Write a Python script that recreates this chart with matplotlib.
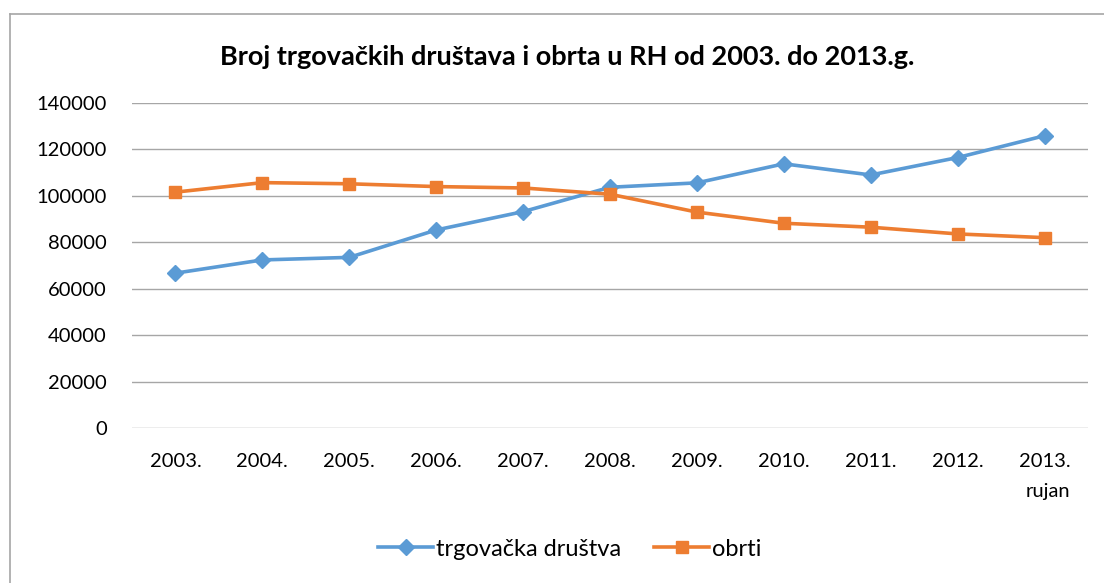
import matplotlib
matplotlib.use("Agg")
import matplotlib.pyplot as plt
from matplotlib.lines import Line2D

categories = ["2003.", "2004.", "2005.", "2006.", "2007.", "2008.", "2009.",
              "2010.", "2011.", "2012.", "2013.\nrujan"]
trgovacka_drustva = [66700, 72400, 73500, 85300, 93200, 103700, 105600,
                     113800, 109000, 116500, 125900]
obrti = [101600, 105700, 105200, 104000, 103400, 100700, 93000,
         88200, 86500, 83600, 82000]
yticks = [0, 20000, 40000, 60000, 80000, 100000, 120000, 140000]
title = "Broj trgovačkih društava i obrta u RH od 2003. do 2013.g."

plt.rcParams['font.family'] = ['Lato', 'DejaVu Sans']

W, H = 1104, 583
fig = plt.figure(figsize=(W / 100, H / 100), dpi=100)
# outer chart border (left and top visible, others cut off)
fig.add_artist(Line2D([9.5 / W, 9.5 / W], [0, 1 - 13.5 / H],
                      transform=fig.transFigure, color="#A6A6A6", linewidth=1.2))
fig.add_artist(Line2D([9.5 / W, 1], [1 - 13.5 / H, 1 - 13.5 / H],
                      transform=fig.transFigure, color="#A6A6A6", linewidth=1.2))

ax = fig.add_axes([132 / W, 1 - 428 / H, 956 / W, 325 / H])

x = list(range(len(categories)))
ax.plot(x, trgovacka_drustva, color="#5B9BD5", linewidth=2.6, marker="D",
        markersize=8, label="trgovačka društva", zorder=3)
ax.plot(x, obrti, color="#ED7D31", linewidth=2.6, marker="s",
        markersize=9, label="obrti", zorder=3)

ax.set_xlim(-0.5, len(categories) - 0.5)
ax.set_ylim(0, 140000)
ax.set_yticks(yticks)
ax.set_yticklabels([str(v) for v in yticks], fontsize=14.5)
ax.set_xticks(x)
ax.set_xticklabels(categories, fontsize=14.5, multialignment="right",
                   linespacing=1.95)
ax.tick_params(length=0)
ax.tick_params(axis="x", pad=18)
ax.tick_params(axis="y", pad=18)
ax.grid(axis="y", color="#A6A6A6", linewidth=1.0)
ax.set_axisbelow(True)
for s in ax.spines.values():
    s.set_visible(False)

fig.text(567 / W, 1 - 57 / H, title, ha="center", va="center",
         fontsize=19.5, fontweight="bold")

fig.legend(loc="center", bbox_to_anchor=(570 / W, 1 - 549 / H), ncol=2,
           frameon=False, fontsize=17, handlelength=2.3, columnspacing=1.4,
           handletextpad=0.15)

fig.savefig("out.png", dpi=100)
